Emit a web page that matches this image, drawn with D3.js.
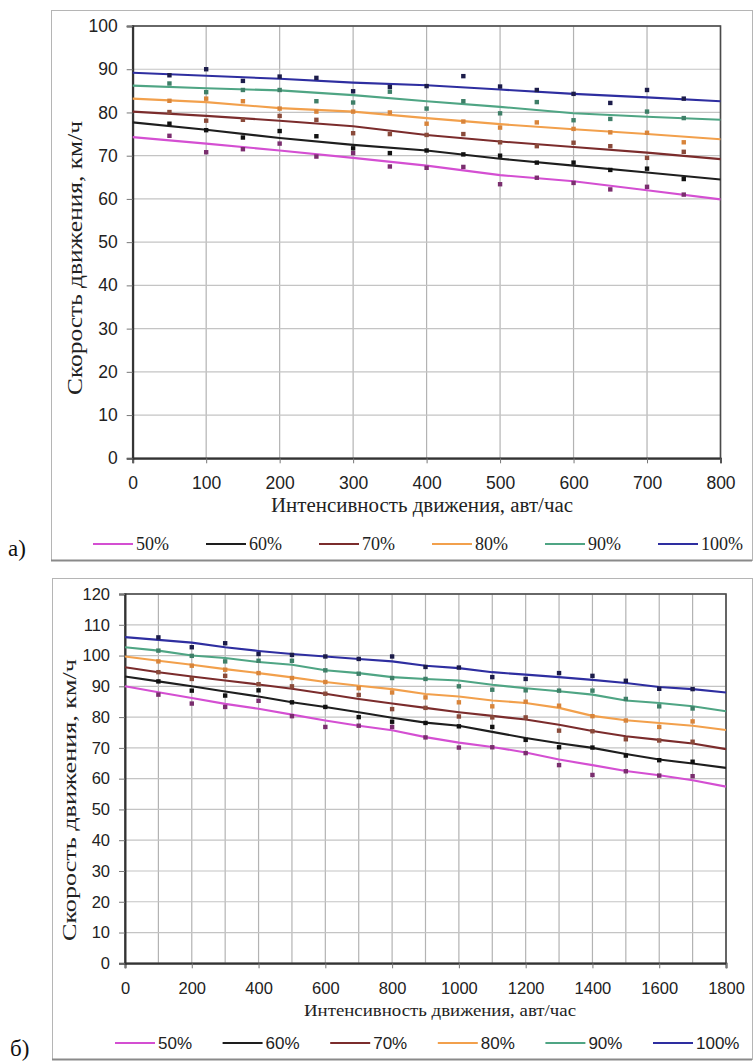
<!DOCTYPE html>
<html><head><meta charset="utf-8">
<script src="https://cdn.jsdelivr.net/npm/d3@7/dist/d3.min.js"></script>
<style>body{margin:0;background:#fff} svg{display:block}</style>
</head><body><svg id="c" width="755" height="1064"></svg>
<script>
// ---------- DATA ----------
const seriesNames = ["50%", "60%", "70%", "80%", "90%", "100%"];

// Panel а)
const topXTicks = [0, 100, 200, 300, 400, 500, 600, 700, 800];
const topYTicks = [0, 10, 20, 30, 40, 50, 60, 70, 80, 90, 100];
const topLineX = [0, 100, 200, 300, 400, 500, 600, 700, 800];
const topLine50  = [74.3, 72.8, 71.2, 69.5, 67.7, 65.5, 64.1, 62.0, 59.9];
const topLine60  = [77.7, 76.0, 74.1, 72.5, 71.2, 69.3, 67.7, 66.1, 64.5];
const topLine70  = [80.2, 79.2, 78.1, 76.8, 74.8, 73.3, 72.0, 70.7, 69.2];
const topLine80  = [83.2, 82.4, 81.0, 80.2, 78.7, 77.3, 76.1, 75.0, 73.8];
const topLine90  = [86.2, 85.6, 85.1, 84.0, 82.6, 81.3, 79.8, 79.0, 78.3];
const topLine100 = [89.2, 88.5, 87.8, 86.9, 86.3, 85.3, 84.3, 83.5, 82.6];
const topPointX = [50, 100, 150, 200, 250, 300, 350, 400, 450, 500, 550, 600, 650, 700, 750];
const topPts50  = [74.6, 70.8, 71.5, 72.8, 69.8, 70.6, 67.5, 67.2, 67.4, 63.4, 64.9, 63.7, 62.2, 62.8, 61.0];
const topPts60  = [77.4, 75.9, 74.2, 75.7, 74.5, 71.7, 70.6, 71.2, 70.3, 70.0, 68.4, 68.4, 66.7, 67.0, 64.6];
const topPts70  = [80.1, 78.1, 78.3, 79.2, 78.3, 75.2, 75.0, 74.8, 75.0, 73.1, 72.2, 73.0, 72.2, 69.5, 70.9];
const topPts80  = [82.7, 83.2, 82.6, 80.9, 80.2, 80.2, 80.0, 77.4, 77.9, 76.5, 77.7, 76.2, 75.4, 75.3, 73.1];
const topPts90  = [86.7, 84.7, 85.2, 85.2, 82.6, 82.3, 84.8, 80.9, 82.6, 79.8, 82.4, 78.2, 78.5, 80.2, 78.7];
const topPts100 = [88.6, 90.0, 87.3, 88.3, 88.0, 84.9, 85.9, 86.1, 88.4, 86.0, 85.2, 84.3, 82.2, 85.2, 83.2];

// Panel б)
const botXTicks = [0, 200, 400, 600, 800, 1000, 1200, 1400, 1600, 1800];
const botYTicks = [0, 10, 20, 30, 40, 50, 60, 70, 80, 90, 100, 110, 120];
const botLineX = [0, 100, 200, 300, 400, 500, 600, 700, 800, 900, 1000, 1100, 1200, 1300, 1400, 1500, 1600, 1700, 1800];
const botLine50  = [90.0, 88.1, 86.2, 84.3, 82.7, 80.8, 78.9, 77.2, 75.7, 73.5, 71.7, 70.3, 68.5, 66.2, 64.4, 62.5, 61.1, 59.5, 57.4];
const botLine60  = [93.2, 91.6, 90.0, 88.3, 86.7, 84.8, 83.3, 81.6, 79.8, 78.2, 77.2, 75.2, 73.2, 71.5, 70.0, 68.0, 66.2, 64.9, 63.5];
const botLine70  = [96.2, 94.6, 93.2, 91.9, 90.6, 89.2, 87.6, 85.9, 84.4, 83.0, 81.6, 80.4, 79.2, 77.5, 75.5, 73.8, 72.6, 71.4, 69.6];
const botLine80  = [99.7, 98.3, 97.0, 95.6, 94.3, 92.9, 91.4, 90.2, 89.1, 87.5, 86.7, 85.4, 84.6, 83.0, 80.4, 79.0, 78.1, 77.2, 75.8];
const botLine90  = [102.7, 101.6, 100.0, 99.2, 97.9, 97.0, 95.2, 94.3, 93.0, 92.4, 91.9, 90.5, 89.4, 88.4, 87.3, 85.4, 84.6, 83.5, 81.9];
const botLine100 = [106.0, 105.1, 104.2, 102.7, 101.5, 100.5, 99.7, 98.9, 98.1, 96.7, 95.9, 94.6, 93.8, 93.0, 92.1, 91.1, 89.8, 89.1, 88.0];
const botPointX = [100, 200, 300, 400, 500, 600, 700, 800, 900, 1000, 1100, 1200, 1300, 1400, 1500, 1600, 1700];
const botPts50  = [87.3, 84.4, 83.3, 85.3, 80.3, 76.8, 77.2, 76.8, 73.4, 70.1, 70.2, 68.3, 64.4, 61.2, 62.4, 61.0, 60.8];
const botPts60  = [91.6, 88.6, 87.0, 88.7, 84.8, 83.3, 80.0, 78.5, 78.1, 77.0, 76.8, 72.6, 70.2, 70.1, 67.5, 66.0, 65.5];
const botPts70  = [94.6, 92.4, 93.4, 90.7, 90.0, 87.6, 87.2, 82.6, 83.0, 80.2, 79.9, 79.9, 75.6, 75.4, 72.8, 72.4, 72.0];
const botPts80  = [98.1, 96.7, 95.4, 94.3, 92.7, 91.4, 89.4, 88.0, 86.4, 84.8, 83.5, 85.0, 83.7, 80.3, 78.9, 76.8, 78.6];
const botPts90  = [101.6, 99.9, 98.1, 98.3, 98.3, 95.2, 94.1, 92.7, 92.4, 90.0, 88.9, 88.7, 88.6, 88.6, 85.9, 83.5, 82.8];
const botPts100 = [105.9, 102.7, 104.0, 100.5, 100.2, 99.7, 98.9, 99.7, 96.3, 96.1, 93.0, 92.4, 94.3, 93.4, 91.8, 89.2, 89.1];

const yTitle = "Скорость движения, км/ч";
const xTitle = "Интенсивность движения, авт/час";

// ---------- STYLE ----------
const lineColors = ["#d44fd2", "#1e1e1e", "#7b2c2c", "#f2a04c", "#4fa584", "#2e2ea0"];
const pointColors = ["#7a2e6e", "#111111", "#8a4a3a", "#d8843a", "#3f7f68", "#1c1c4a"];
const SANS = "'Liberation Sans', Arial, sans-serif";
const SERIF = "'Liberation Serif', 'Times New Roman', serif";

const svg = d3.select("#c");

function drawPanel(cfg) {
  const g = svg.append("g");
  // outer frame
  g.append("rect").attr("x", cfg.frame.x + 0.5).attr("y", cfg.frame.y + 0.5)
    .attr("width", cfg.frame.w).attr("height", cfg.frame.h)
    .attr("fill", "none").attr("stroke", "#b5b5b5").attr("stroke-width", 1);
  g.append("line").attr("x1", cfg.frame.x).attr("x2", cfg.frame.x + cfg.frame.w)
    .attr("y1", cfg.frame.y + cfg.frame.h + 0.5).attr("y2", cfg.frame.y + cfg.frame.h + 0.5)
    .attr("stroke", "#8a8a8a").attr("stroke-width", 2);

  const x = d3.scaleLinear().domain(cfg.xDomain).range([cfg.plot.l, cfg.plot.r]);
  const y = d3.scaleLinear().domain(cfg.yDomain).range([cfg.plot.b, cfg.plot.t]);

  // grid
  g.append("g").selectAll("line").data(cfg.xGrid).join("line")
    .attr("x1", d => x(d)).attr("x2", d => x(d))
    .attr("y1", cfg.plot.t).attr("y2", cfg.plot.b)
    .attr("stroke", "#b3b3b3").attr("stroke-width", 1.2);
  g.append("g").selectAll("line").data(cfg.yTicks).join("line")
    .attr("x1", cfg.plot.l).attr("x2", cfg.plot.r)
    .attr("y1", d => y(d)).attr("y2", d => y(d))
    .attr("stroke", "#c4c4c4").attr("stroke-width", 1.2);

  // plot border
  g.append("rect").attr("x", cfg.plot.l).attr("y", cfg.plot.t)
    .attr("width", cfg.plot.r - cfg.plot.l).attr("height", cfg.plot.b - cfg.plot.t)
    .attr("fill", "none").attr("stroke", "#4a4a4a").attr("stroke-width", 1.6);

  // axes
  const ax = g.append("g").attr("transform", `translate(0,${cfg.plot.b})`)
    .call(d3.axisBottom(x).tickValues(cfg.xTicks).tickSize(5).tickPadding(cfg.xPad).tickFormat(d3.format("d")));
  const ay = g.append("g").attr("transform", `translate(${cfg.plot.l},0)`)
    .call(d3.axisLeft(y).tickValues(cfg.yTicks).tickSize(6).tickPadding(cfg.yPad).tickFormat(d3.format("d")));
  [ax, ay].forEach(a => {
    a.select(".domain").attr("stroke", "#333").attr("stroke-width", 2);
    a.selectAll(".tick line").attr("stroke", "#777");
    a.selectAll("text").attr("font-family", SANS).attr("font-size", cfg.tickFont).attr("fill", "#222");
  });

  // lines
  const lineGen = d3.line().x(d => x(d[0])).y(d => y(d[1]));
  cfg.lines.forEach((vals, i) => {
    g.append("path").datum(cfg.lineX.map((xv, j) => [xv, vals[j]]))
      .attr("d", lineGen).attr("fill", "none")
      .attr("stroke", lineColors[i]).attr("stroke-width", 2.1);
  });
  // points
  cfg.points.forEach((vals, i) => {
    g.append("g").selectAll("rect").data(cfg.pointX.map((xv, j) => [xv, vals[j]])).join("rect")
      .attr("x", d => x(d[0]) - 2.2).attr("y", d => y(d[1]) - 2.2)
      .attr("width", 4.4).attr("height", 4.4).attr("fill", pointColors[i]);
  });

  // titles
  g.append("text").attr("x", cfg.xTitleX).attr("y", cfg.xTitleY)
    .attr("text-anchor", "middle").attr("font-family", SERIF).attr("font-size", cfg.xTitleFont)
    .attr("textLength", cfg.xTitleLen).attr("lengthAdjust", "spacingAndGlyphs")
    .attr("fill", "#222").text(xTitle);
  g.append("text").attr("transform", `translate(${cfg.yTitleX},${cfg.yTitleY}) rotate(-90)`)
    .attr("text-anchor", "middle").attr("font-family", SERIF).attr("font-size", cfg.yTitleFont)
    .attr("textLength", cfg.yTitleLen).attr("lengthAdjust", "spacingAndGlyphs")
    .attr("fill", "#222").text(yTitle);

  // legend
  seriesNames.forEach((name, i) => {
    const lx = cfg.legend.x0 + i * cfg.legend.step;
    g.append("line").attr("x1", lx).attr("x2", lx + 40)
      .attr("y1", cfg.legend.y).attr("y2", cfg.legend.y)
      .attr("stroke", lineColors[i]).attr("stroke-width", 2);
    g.append("text").attr("x", lx + 43).attr("y", cfg.legend.y).attr("dy", "0.35em")
      .attr("font-family", cfg.legend.font).attr("font-size", cfg.legend.size)
      .attr("fill", "#222").text(name);
  });

  // panel label
  svg.append("text").attr("x", cfg.label.x).attr("y", cfg.label.y)
    .attr("font-family", SERIF).attr("font-size", 23).attr("fill", "#111").text(cfg.label.t);
}

drawPanel({
  frame: {x: 51, y: 10, w: 701, h: 550},
  plot: {l: 132.7, r: 720.5, t: 26, b: 458.3},
  xDomain: [0, 800], yDomain: [0, 100],
  xTicks: topXTicks, xGrid: topXTicks, yTicks: topYTicks,
  xPad: 13, yPad: 9, tickFont: 17.5,
  lineX: topLineX, lines: [topLine50, topLine60, topLine70, topLine80, topLine90, topLine100],
  pointX: topPointX, points: [topPts50, topPts60, topPts70, topPts80, topPts90, topPts100],
  xTitleX: 422, xTitleY: 512, xTitleFont: 20, xTitleLen: 302,
  yTitleX: 82, yTitleY: 258, yTitleFont: 20.5, yTitleLen: 274,
  legend: {x0: 93, step: 113, y: 544, font: SERIF, size: 18},
  label: {x: 8, y: 556, t: "а)"}
});

drawPanel({
  frame: {x: 52, y: 578, w: 700, h: 481},
  plot: {l: 125, r: 726, t: 594, b: 963.3},
  xDomain: [0, 1800], yDomain: [0, 120],
  xTicks: botXTicks, xGrid: botLineX, yTicks: botYTicks,
  xPad: 14, yPad: 9, tickFont: 16.5,
  lineX: botLineX, lines: [botLine50, botLine60, botLine70, botLine80, botLine90, botLine100],
  pointX: botPointX, points: [botPts50, botPts60, botPts70, botPts80, botPts90, botPts100],
  xTitleX: 440, xTitleY: 1016, xTitleFont: 17.5, xTitleLen: 272,
  yTitleX: 76, yTitleY: 800, yTitleFont: 19, yTitleLen: 282,
  legend: {x0: 115, step: 107.6, y: 1043, font: SANS, size: 17},
  label: {x: 10, y: 1056, t: "б)"}
});
</script></body></html>
